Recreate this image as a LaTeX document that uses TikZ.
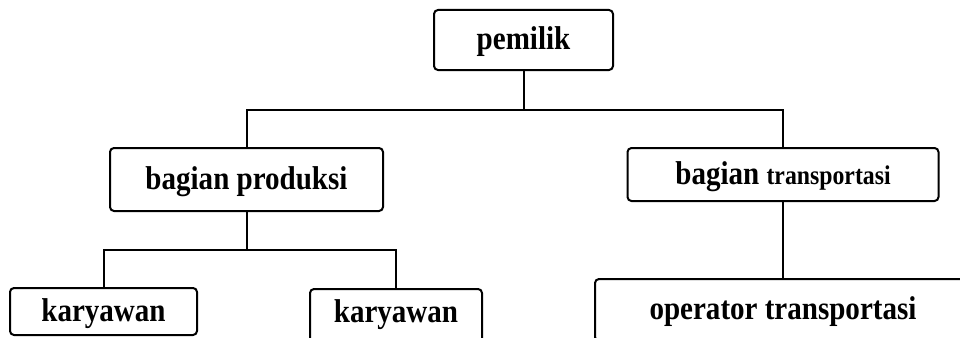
\documentclass[tikz,border=0pt]{standalone}
\usepackage{fontspec}
\setmainfont[FakeStretch=0.88]{Liberation Serif}
\begin{document}
\begin{tikzpicture}[x=1pt,y=-1pt,
    kotak/.style={draw,line width=2pt,rounded corners=4pt,inner xsep=2pt,inner ysep=5pt,
      font=\bfseries\fontsize{33}{40}\selectfont,text height=24.75pt,text depth=4.95pt}]
  \useasboundingbox (0,0) rectangle (960,337);
  \clip (0,0) rectangle (960,337);
  \draw
    (523.5,40) node[kotak,minimum width=179pt,minimum height=60pt] (pemilik){pemilik}
    (246.5,179.5) node[kotak,minimum width=273pt,minimum height=63pt] (produksi){bagian produksi}
    (783,174.5) node[kotak,minimum width=311pt,minimum height=53pt] (transport){bagian {\fontsize{27}{32}\selectfont transportasi}}
    (103.5,311.5) node[kotak,minimum width=187pt,minimum height=47pt] (karyawan1){karyawan}
    (396,288) node[kotak,anchor=north,minimum width=172pt,inner ysep=8.65pt,text depth=25pt] (karyawan2){karyawan}
    (783,310) node[kotak,minimum width=376pt,minimum height=62pt] (operator){operator transportasi};
  \begin{scope}[line width=2pt]
    \draw (pemilik.south) -- ++(0,39) coordinate (atas);
    \draw (produksi.north) |- (atas) -| (transport.north);
    \draw (produksi.south) -- ++(0,38) coordinate (bawah);
    \draw (karyawan1.north) |- (bawah) -| (karyawan2.north);
    \draw (transport.south) -- (operator.north);
  \end{scope}
\end{tikzpicture}
\end{document}
